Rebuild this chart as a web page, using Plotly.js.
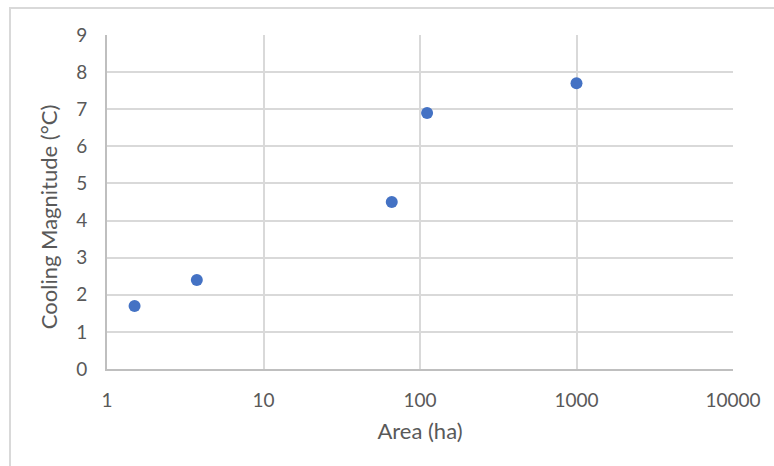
<!DOCTYPE html>
<html>
<head>
<meta charset="utf-8">
<script src="https://cdn.plot.ly/plotly-3.0.1.min.js"></script>
<style>
  html, body { margin: 0; padding: 0; background: #ffffff; }
  #wrap { position: relative; width: 774px; height: 466px; overflow: hidden; }
  #chart { position: absolute; left: 0; top: 0; width: 774px; height: 466px; }
  #frame { position: absolute; left: 9px; top: 7px; width: 800px; height: 500px;
           border-left: 2px solid #d9d9d9; border-top: 2px solid #d9d9d9; pointer-events: none; }
</style>
</head>
<body>
<div id="wrap">
  <div id="chart"></div>
  <div id="frame"></div>
</div>
<script>
const areaHa = [1.5, 3.75, 66, 111, 1000];
const coolingC = [1.7, 2.4, 4.5, 6.9, 7.7];
const xTickVals = [1, 10, 100, 1000, 10000];
const xTickText = ['1', '10', '100', '1000', '10000'];
const yTickVals = [0, 1, 2, 3, 4, 5, 6, 7, 8, 9];
const xTitle = 'Area (ha)';
const yTitle = 'Cooling Magnitude (°C)';

const tickFont = { family: 'Lato, "Open Sans", sans-serif', size: 19, color: '#595959' };
const titleFont = { family: 'Lato, "Open Sans", sans-serif', size: 22, color: '#595959' };

const trace = {
  x: areaHa,
  y: coolingC,
  type: 'scatter',
  mode: 'markers',
  marker: { color: '#4472C4', size: 12 },
  hoverinfo: 'x+y'
};

const layout = {
  width: 774,
  height: 466,
  margin: { l: 107, r: 41, t: 35, b: 97 },
  paper_bgcolor: '#ffffff',
  plot_bgcolor: '#ffffff',
  showlegend: false,
  font: tickFont,
  xaxis: {
    type: 'log',
    range: [0, 4],
    tickvals: xTickVals,
    ticktext: xTickText,
    showgrid: true,
    gridcolor: '#d9d9d9',
    gridwidth: 2,
    showline: true,
    linecolor: '#bfbfbf',
    linewidth: 2,
    zeroline: false,
    ticks: '',
    ticklabelstandoff: 13,
    tickfont: tickFont,
    title: { text: xTitle, font: titleFont, standoff: 14 }
  },
  yaxis: {
    range: [0, 9],
    tickvals: yTickVals,
    showgrid: true,
    gridcolor: '#d9d9d9',
    gridwidth: 2,
    showline: true,
    linecolor: '#bfbfbf',
    linewidth: 2,
    zeroline: false,
    ticks: '',
    ticklabelstandoff: 14,
    tickfont: tickFont
  },
  annotations: [{
    text: yTitle,
    xref: 'paper', yref: 'paper',
    x: -0.094, y: 0.455,
    xanchor: 'center', yanchor: 'middle',
    textangle: -90,
    showarrow: false,
    font: titleFont
  }]
};

Plotly.newPlot('chart', [trace], layout, { displayModeBar: false, staticPlot: true });
</script>
</body>
</html>
